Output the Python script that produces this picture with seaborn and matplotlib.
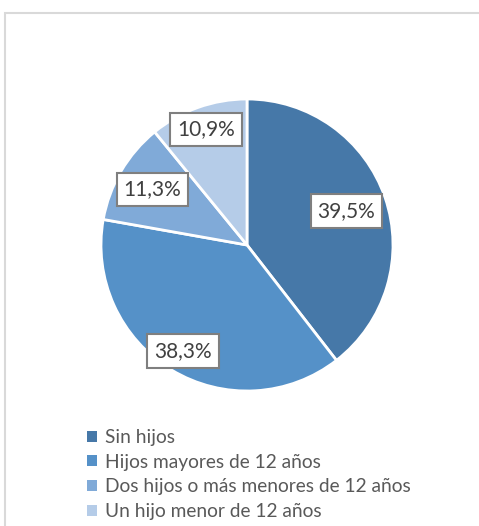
import numpy as np
import matplotlib
matplotlib.use("Agg")
import matplotlib.pyplot as plt
from matplotlib.patches import Patch, Rectangle
import seaborn as sns

categories = ["Sin hijos", "Hijos mayores de 12 años",
              "Dos hijos o más menores de 12 años", "Un hijo menor de 12 años"]
values = [39.5, 38.3, 11.3, 10.9]
labels = ["39,5%", "38,3%", "11,3%", "10,9%"]
colors = ["#4678A8", "#5591C8", "#80AAD8", "#B5CCE8"]
label_radius = [0.72, 0.85, 0.75, 0.84]

sns.set_theme(style="white")
plt.rcParams["font.family"] = ["Lato", "DejaVu Sans"]

W, H = 479, 526
fig = plt.figure(figsize=(W / 100, H / 100), dpi=100)

# chart border (light grey, top and left visible)
fig.add_artist(Rectangle((5 / W, -0.1), 1.2, (H - 13) / H + 0.1, transform=fig.transFigure,
                         fill=False, edgecolor="#D9D9D9", linewidth=1.5))

cx, cy, r = 247, 245, 146
ax = fig.add_axes([(cx - r) / W, (H - cy - r) / H, 2 * r / W, 2 * r / H])
wedges, _ = ax.pie(values, colors=colors, startangle=90, counterclock=False,
                   radius=1, wedgeprops=dict(edgecolor="white", linewidth=2))
ax.set_xlim(-1, 1)
ax.set_ylim(-1, 1)
ax.set_aspect("equal")
ax.axis("off")

for w, lab, rr in zip(wedges, labels, label_radius):
    ang = np.deg2rad((w.theta1 + w.theta2) / 2)
    ax.text(rr * np.cos(ang), rr * np.sin(ang), lab, ha="center", va="center",
            fontsize=15, color="#404040",
            bbox=dict(boxstyle="square,pad=0.33", facecolor="white",
                      edgecolor="#7F7F7F", linewidth=1.5))

handles = [Patch(facecolor=c, edgecolor="none") for c in colors]
fig.legend(handles, categories, loc="upper left",
           bbox_to_anchor=(87 / W, 1 - 429 / H), frameon=False,
           fontsize=13.8, labelcolor="#595959", handlelength=0.5, handleheight=0.5,
           handletextpad=0.45, labelspacing=0.4, borderaxespad=0, borderpad=0)

fig.savefig("out.png", dpi=100)
